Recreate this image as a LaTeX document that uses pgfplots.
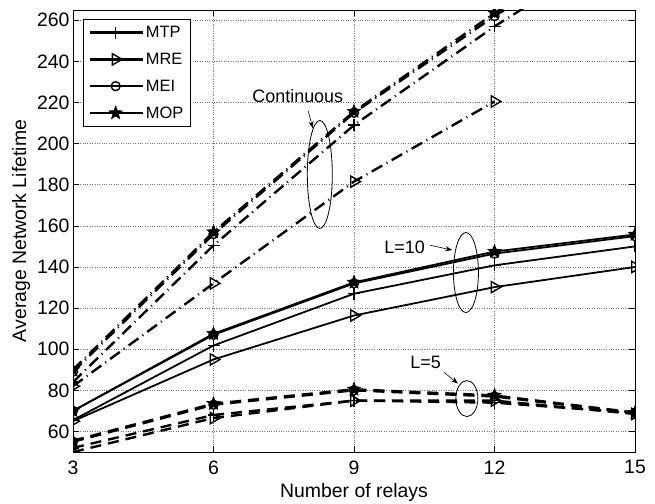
\documentclass[border=0pt]{standalone}
\usepackage{pgfplots}
\pgfplotsset{compat=1.18}
\usepackage{fontspec}
\setmainfont{Liberation Sans}
\usetikzlibrary{arrows.meta}

\pgfdeclareplotmark{fstar}{%
  \pgfpathmoveto{\pgfpointpolar{90}{\pgfplotmarksize}}%
  \pgfpathlineto{\pgfpointpolar{126}{0.42\pgfplotmarksize}}%
  \pgfpathlineto{\pgfpointpolar{162}{\pgfplotmarksize}}%
  \pgfpathlineto{\pgfpointpolar{198}{0.42\pgfplotmarksize}}%
  \pgfpathlineto{\pgfpointpolar{234}{\pgfplotmarksize}}%
  \pgfpathlineto{\pgfpointpolar{270}{0.42\pgfplotmarksize}}%
  \pgfpathlineto{\pgfpointpolar{306}{\pgfplotmarksize}}%
  \pgfpathlineto{\pgfpointpolar{342}{0.42\pgfplotmarksize}}%
  \pgfpathlineto{\pgfpointpolar{18}{\pgfplotmarksize}}%
  \pgfpathlineto{\pgfpointpolar{54}{0.42\pgfplotmarksize}}%
  \pgfpathclose
  \pgfusepathqfillstroke
}

\pgfplotstableread{
x mtp mre mei mop
3 65.5 65 70 70
6 101.8 95 107 107.5
9 127 116.4 132 132.5
12 140.8 130.2 146.5 147.5
15 150 140 155 155.8
}\tenData

\pgfplotstableread{
x mtp mre mei mop
3 52 50 55 55.5
6 68 66.5 73 73.5
9 75 75 80 80.5
12 74 75 77 77.5
15 69 68.5 69 69.2
}\fiveData

\pgfplotstableread{
x mtp mei mop
3 84 89 90
6 150.5 156 157
9 209 215 215.6
12 257 262 263.5
15 300 305 306
}\contData

\pgfplotstableread{
x mre
3 82
6 132
9 181.5
12 220.5
}\contMRE

\begin{document}
\begin{tikzpicture}
\begin{axis}[
  scale only axis, width=562bp, height=442bp,
  xmin=3, xmax=15, ymin=50, ymax=265,
  xtick={3,6,9,12,15}, ytick={60,80,...,260},
  grid=major, major grid style={dotted, black!55, line width=0.7pt},
  tick align=inside, tick pos=both, major tick length=6bp,
  axis line style={line width=0.8pt},
  tick style={black, line width=0.7pt},
  tick label style={font=\fontsize{19.5}{21}\selectfont},
  xticklabel style={yshift=-5bp},
  /pgf/number format/assume math mode=true,
  xlabel={Number of relays}, ylabel={Average Network Lifetime},
  label style={font=\fontsize{19.5}{22}\selectfont},
  xlabel style={yshift=-2bp},
  clip marker paths=true,
  legend style={at={(0.018,0.98)}, anchor=north west, font=\fontsize{16.5}{18}\selectfont,
    draw=black, line width=0.7pt, row sep=10bp, inner xsep=5bp, inner ysep=5bp, cells={anchor=west}},
  legend image code/.code={\draw[mark repeat=2, mark phase=2, #1, line width=2.4pt] plot coordinates {(0bp,0bp) (26bp,0bp) (53bp,0bp)};},
  mtp/.style={black, mark=+, mark size=6bp, mark options={solid, line width=1.6pt}},
  mre/.style={black, mark=triangle, mark size=6.5bp, mark options={solid, rotate=-90, fill=white, line width=1.4pt}},
  mei/.style={black, mark=o, mark size=4.5bp, mark options={solid, fill=white, line width=1.4pt}},
  mop/.style={black, mark=fstar, mark size=7bp, mark options={solid, fill=black, line width=0.6pt}},
  tenl/.style={solid, line width=1.8pt},
  fivel/.style={line width=2.4pt, dash pattern=on 11bp off 7bp},
  contl/.style={line width=2.4pt, dash pattern=on 12bp off 5bp on 1bp off 5bp},
]
% L=10 (solid) -- legend entries
\addplot[mtp, tenl] table[x=x, y=mtp] {\tenData};
\addlegendentry{MTP}
\addplot[mre, tenl] table[x=x, y=mre] {\tenData};
\addlegendentry{MRE}
\addplot[mei, tenl] table[x=x, y=mei] {\tenData};
\addlegendentry{MEI}
\addplot[mop, tenl] table[x=x, y=mop] {\tenData};
\addlegendentry{MOP}
% L=5 (dashed)
\addplot[mtp, fivel, forget plot] table[x=x, y=mtp] {\fiveData};
\addplot[mre, fivel, forget plot] table[x=x, y=mre] {\fiveData};
\addplot[mei, fivel, forget plot] table[x=x, y=mei] {\fiveData};
\addplot[mop, fivel, forget plot] table[x=x, y=mop] {\fiveData};
% Continuous (dash-dot)
\addplot[mtp, contl, forget plot] table[x=x, y=mtp] {\contData};
\addplot[mre, contl, forget plot] table[x=x, y=mre] {\contMRE};
\addplot[mei, contl, forget plot] table[x=x, y=mei] {\contData};
\addplot[mop, contl, forget plot] table[x=x, y=mop] {\contData};
% annotations
\node[font=\fontsize{18}{20}\selectfont] at (axis cs:7.8,223) {Continuous};
\draw[-{Stealth[length=7bp,width=5bp]}, line width=0.6pt] (axis cs:8.02,216) -- (axis cs:8.12,207.5);
\draw[line width=0.8pt] (axis cs:8.27,185) ellipse [x radius=12.5bp, y radius=54bp];
\node[font=\fontsize{18}{20}\selectfont] at (axis cs:10.08,149.6) {L=10};
\draw[-{Stealth[length=7bp,width=5bp]}, line width=0.6pt] (axis cs:10.62,150.6) -- (axis cs:11.1,148.2);
\draw[line width=0.8pt] (axis cs:11.39,137.3) ellipse [x radius=12.5bp, y radius=40bp];
\node[font=\fontsize{18}{20}\selectfont] at (axis cs:10.53,93.5) {L=5};
\draw[-{Stealth[length=7bp,width=5bp]}, line width=0.6pt] (axis cs:10.92,88.8) -- (axis cs:11.22,83.3);
\draw[line width=0.8pt] (axis cs:11.41,76.0) ellipse [x radius=11bp, y radius=18bp];
\end{axis}
\pgfresetboundingbox
\path (-73bp,-52bp) rectangle (582bp,452bp);
\end{tikzpicture}
\end{document}
